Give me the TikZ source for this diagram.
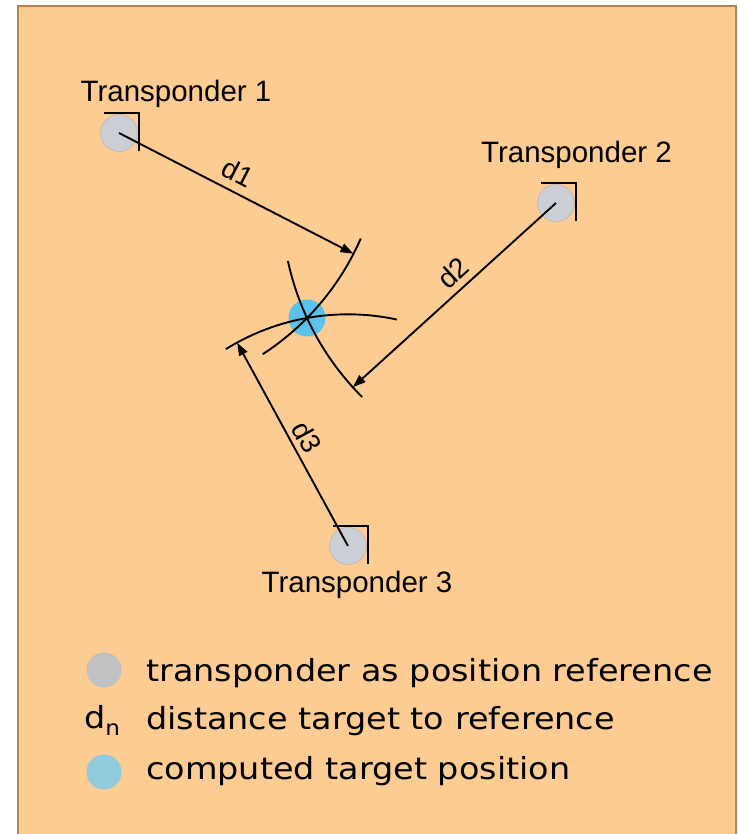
\documentclass[tikz,border=0pt]{standalone}
\usepackage{fontspec}
\setmainfont{Liberation Sans}
\newfontfamily\legendfont[FakeStretch=1.1]{DejaVu Sans}
\usetikzlibrary{arrows.meta,calc}
\definecolor{panel}{RGB}{252,204,146}
\definecolor{panelborder}{RGB}{190,128,80}
\definecolor{tgrey}{RGB}{204,206,214}
\definecolor{lgrey}{RGB}{192,192,192}
\definecolor{tblue}{RGB}{91,194,236}
\definecolor{lblue}{RGB}{143,203,220}
\begin{document}
\begin{tikzpicture}[x=1pt,y=-1pt,
  tdot/.style={circle,fill=tgrey,draw=tgrey!85!black,line width=0.4pt,minimum size=37pt,inner sep=0pt},
  tlabel/.style={font=\fontsize{29.5}{34}\selectfont,inner sep=0pt,anchor=base},
  dlabel/.style={font=\fontsize{28}{32}\selectfont,inner sep=0pt},
  conn/.style={line width=1.9pt,-{Triangle[length=13pt,width=9pt]}},
  arcline/.style={line width=1.9pt},
  bracket/.style={line width=1.9pt},
  legdot/.style={circle,minimum size=35pt,inner sep=0pt},
  legtext/.style={font=\legendfont\fontsize{30.4}{36}\selectfont,anchor=base west,inner sep=0pt}]

\useasboundingbox (0,0) rectangle (737,834);
\fill[white] (0,0) rectangle (737,834);
\fill[panel] (18,6) rectangle (736,834);
\draw[panelborder,line width=2.5pt] (18.2,834) -- (18.2,6.2) -- (735.8,6.2) -- (735.8,834);

% transponders
\node[tdot] (T1) at (119,133) {};
\node[tdot] (T2) at (556,203) {};
\node[tdot] (T3) at (348,546) {};
\node[circle,fill=tblue,minimum size=37pt,inner sep=0pt] (P) at (307,318) {};

% brackets
\foreach \t in {T1,T2,T3}{
  \draw[bracket] ($(\t)+(-15,-20)$) -- ++(35,0) -- ++(0,38);
}

% labels
\node[tlabel] (L1) at (176,102) {Transponder 1};
\node[tlabel] (L2) at (576.5,163) {Transponder 2};
\node[tlabel] (L3) at (357,592) {Transponder 3};

% arcs
\draw[arcline] ($(T1)+(-23.6:263.8pt)$) arc[start angle=-23.6,end angle=-57,radius=263.8pt];
\draw[arcline] ($(T2)+(-167.8:274.3pt)$) arc[start angle=-167.8,end angle=-135,radius=274.3pt];
\draw[arcline] ($(T3)+(121.8:231.7pt)$) arc[start angle=121.8,end angle=77.8,radius=231.7pt];

% arrow end points on arcs
\coordinate (a1) at ($(T1)+(-27.25:263.8pt)$);
\coordinate (a2) at ($(T2)+(-137.8:274.3pt)$);
\coordinate (a3) at ($(T3)+(118.6:231.7pt)$);

\draw[conn] (T1.center) -- (a1);
\draw[conn] (T2.center) -- (a2);
\draw[conn] (T3.center) -- (a3);

\node[dlabel,rotate=-27.25] (d1) at (238,173) {d1};
\node[dlabel,rotate=42.2] (d2) at (453,273) {d2};
\node[dlabel,rotate=-61.4] (d3) at (307,437) {d3};

% legend
\node[legdot,fill=lgrey] (G1) at (104,670) {};
\node[legdot,fill=lblue] (G3) at (104,772) {};
\node[legtext] (G1t) at (146,681) {transponder as position reference};
\node[legtext] (G2s) at (84,728) {d\raisebox{-7pt}{\fontsize{21}{24}\selectfont n}};
\node[legtext] (G2t) at (146,729) {distance target to reference};
\node[legtext] (G3t) at (146,779) {computed target position};
\end{tikzpicture}
\end{document}
